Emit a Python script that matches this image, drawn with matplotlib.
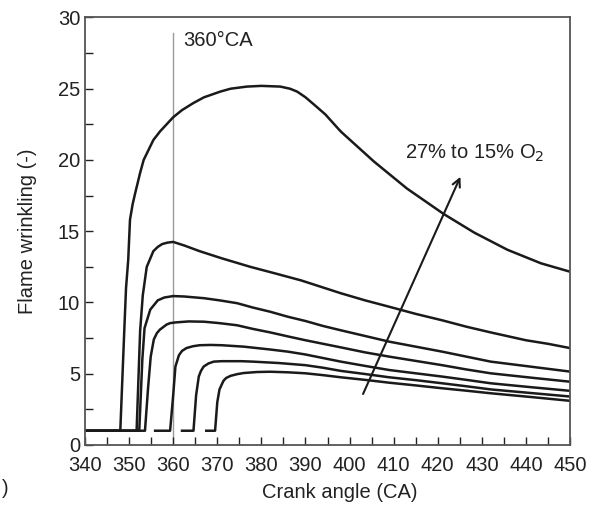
import matplotlib
matplotlib.use("Agg")
from matplotlib import pyplot as plt
from matplotlib.ticker import MultipleLocator

plt.rcParams['font.family'] = ['Liberation Sans', 'DejaVu Sans']

# 読み取ったデータ (クランク角, 火炎しわ)
ca_1 = [340, 348.0, 348.9, 349.3, 349.8, 350.2, 350.8, 351.4, 352.5, 353.3, 354.4, 355.5, 357,
        358.5, 360, 362, 364.6, 367, 370.7, 373, 376.7, 380, 384.3, 386.5, 388.1, 390,
        391.9, 394.5, 398, 405.5, 413, 421.4, 428.3, 435.8, 443.4, 450]
fw_1 = [1, 1, 8, 11, 13, 15.8, 16.9, 17.7, 19.1, 20.0, 20.7, 21.4, 22.0,
        22.5, 23.0, 23.5, 24.0, 24.4, 24.8, 25.0, 25.15, 25.2, 25.15, 25.0, 24.8, 24.4,
        23.9, 23.2, 22.0, 19.9, 18.0, 16.2, 14.9, 13.7, 12.75, 12.16]

ca_2 = [340, 351.7, 352.5, 353.1, 354.0, 355.5, 356.5, 357.5, 358.7, 360, 362.5, 366, 371,
        377.5, 383, 389, 394, 398, 403.5, 409, 415, 421, 426.5, 432, 440, 445, 450]
fw_2 = [1, 1, 8, 10.5, 12.5, 13.6, 13.9, 14.1, 14.2, 14.25, 14.0, 13.6, 13.1,
        12.5, 12.05, 11.55, 11.05, 10.65, 10.15, 9.7, 9.2, 8.75, 8.3, 7.9, 7.35, 7.1, 6.8]

ca_3 = [340, 352.3, 353.0, 353.5, 354.8, 356.5, 358, 360, 362.5, 367, 370.5, 374.5, 378,
        382, 386, 390, 394, 398, 403.5, 409, 415, 421, 426.5, 432, 441, 450]
fw_3 = [1, 1, 6, 8.2, 9.5, 10.15, 10.35, 10.45, 10.42, 10.3, 10.15, 9.95, 9.65,
        9.35, 9.0, 8.7, 8.35, 8.05, 7.65, 7.25, 6.9, 6.55, 6.2, 5.85, 5.5, 5.15]

ca_4 = [340, 353.6, 354.3, 354.9, 355.6, 356.3, 357, 358.5, 359.3, 360.5, 363.5, 367, 370.5,
        374.5, 378, 382, 386, 390, 394, 398, 403.5, 409, 415, 421, 426.5, 432, 441, 450]
fw_4 = [1, 1, 4, 6.2, 7.4, 7.85, 8.1, 8.45, 8.55, 8.6, 8.67, 8.65, 8.55,
        8.4, 8.15, 7.9, 7.62, 7.35, 7.1, 6.85, 6.5, 6.2, 5.9, 5.6, 5.3, 5.03, 4.73, 4.44]

ca_5 = [355.9, 359.3, 360.0, 360.5, 361.3, 362, 363, 364.5, 366, 368.5, 371, 376, 382,
        386, 390, 394, 398, 403.5, 409, 415, 421, 426.5, 432, 441, 450]
fw_5 = [1, 1, 3.5, 5.5, 6.3, 6.6, 6.8, 6.93, 7.0, 7.02, 7.0, 6.9, 6.7,
        6.55, 6.35, 6.1, 5.85, 5.55, 5.26, 5.03, 4.8, 4.57, 4.33, 4.06, 3.8]

ca_6 = [362.0, 364.6, 365.2, 365.8, 366.3, 366.9, 368, 369.2, 371, 373, 375.5, 378, 384,
        390, 394, 398, 403.5, 409, 415, 421, 426.5, 432, 441, 450]
fw_6 = [1, 1, 3.5, 4.8, 5.2, 5.5, 5.72, 5.85, 5.88, 5.88, 5.88, 5.85, 5.75,
        5.6, 5.42, 5.2, 4.98, 4.75, 4.55, 4.33, 4.12, 3.9, 3.65, 3.4]

ca_7 = [367.5, 369.5, 370.0, 370.5, 371.4, 372, 373, 374.5, 376, 379, 382, 386, 390,
        394, 398, 403.5, 409, 415, 421, 426.5, 432, 441, 450]
fw_7 = [1, 1, 3.0, 3.9, 4.5, 4.7, 4.85, 4.97, 5.05, 5.12, 5.14, 5.1, 5.03,
        4.9, 4.75, 4.57, 4.37, 4.18, 3.98, 3.81, 3.63, 3.37, 3.1]

curves = [(ca_1, fw_1), (ca_2, fw_2), (ca_3, fw_3), (ca_4, fw_4),
          (ca_5, fw_5), (ca_6, fw_6), (ca_7, fw_7)]

# グラフの描画
fig = plt.figure(figsize=(6, 5.11), dpi=100)
ax = fig.add_axes([0.1417, 0.1292, 0.8083, 0.8366])

ax.plot([360, 360], [0, 28.9], color="#9a9a9a", lw=1.0, zorder=1)
for ca, fw in curves:
    ax.plot(ca, fw, color="#1a1a1a", lw=1.8, solid_joinstyle="round", zorder=2)

ax.text(362.2, 28.4, "360°CA", fontsize=14.5, va="center", ha="left", color="#222222")
ax.annotate("", xy=(425.4, 19.0), xytext=(402.8, 3.4),
            arrowprops=dict(arrowstyle="->", color="#1a1a1a", lw=1.5, mutation_scale=14))
ax.text(412.5, 20.5, "27% to 15% O$_2$", fontsize=14.5, va="center", ha="left", color="#222222")

ax.set_xlim(340, 450)
ax.set_ylim(0, 30)
ax.xaxis.set_major_locator(MultipleLocator(10))
ax.xaxis.set_minor_locator(MultipleLocator(5))
ax.yaxis.set_major_locator(MultipleLocator(5))
ax.yaxis.set_minor_locator(MultipleLocator(2.5))
ax.tick_params(which="both", direction="in", labelsize=14.5, colors="#222222")
ax.tick_params(which="major", length=6, width=1)
ax.tick_params(which="minor", length=6, width=1)
ax.tick_params(axis="x", pad=8)
for s in ax.spines.values():
    s.set_color("#555555")
    s.set_linewidth(1.3)

ax.set_xlabel("Crank angle (CA)", fontsize=14.5, color="#222222")
ax.set_ylabel("Flame wrinkling (-)", fontsize=14.5, color="#222222")
ax.xaxis.set_label_coords(0.526, -0.088)
ax.yaxis.set_label_coords(-0.099, 0.5)

fig.text(0.004, 0.045, ")", fontsize=14.5, color="#222222", va="center")

fig.savefig("out.png", dpi=100)
